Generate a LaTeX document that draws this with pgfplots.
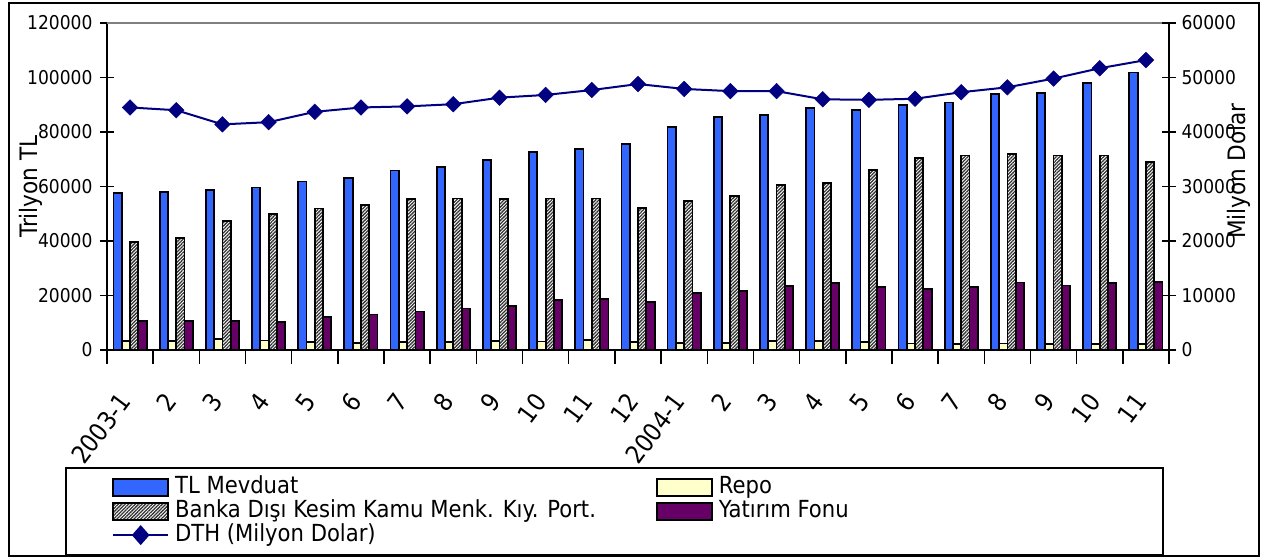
\documentclass[border=0pt]{standalone}
\usepackage{pgfplots}
\pgfplotsset{compat=1.18}
\usepackage{pgfplotstable}
\usepackage{fontspec}
\setmainfont{DejaVu Sans Condensed}
\usetikzlibrary{patterns.meta}
\definecolor{tlblue}{RGB}{51,102,255}
\definecolor{repoy}{RGB}{255,255,204}
\definecolor{fonpur}{RGB}{102,0,102}
\definecolor{dthnavy}{RGB}{0,0,128}

\pgfplotstableread{
x tl repo bd yf dth
0 57700 3300 39500 10600 44500
1 58100 3300 41100 10600 44000
2 58700 4000 47400 10700 41400
3 59600 3500 49800 10400 41800
4 61800 3000 51900 12200 43700
5 63000 2700 53100 13000 44500
6 65900 3000 55300 14100 44700
7 67300 3000 55600 15200 45100
8 69700 3200 55400 16100 46300
9 72800 3100 55600 18300 46800
10 73900 3600 55600 18700 47700
11 75500 3000 52200 17500 48800
12 81900 2700 54700 21000 47900
13 85600 2600 56500 21700 47500
14 86200 3300 60600 23500 47500
15 88900 3200 61400 24700 46000
16 88100 2900 66100 23000 45900
17 89800 2400 70600 22500 46100
18 90800 2300 71400 23000 47300
19 93900 2400 71800 24800 48200
20 94400 2300 71400 23700 49800
21 98000 2300 71400 24500 51700
22 101800 2300 69100 25100 53200
}\data

\newcommand\barleg[1]{\addlegendimage{legend image code/.code={\draw[black,line width=1.8bp,#1] (0bp,-8.5bp) rectangle (55bp,8.5bp);}}}

\pgfplotsset{
  common/.style={
    at={(107bp,208bp)}, anchor=south west, scale only axis,
    width=1062bp, height=327bp,
    xmin=-0.5, xmax=22.5,
    tick align=center, major tick length=14bp,
    tick style={black, line width=1.5bp},
    axis line style={black, line width=1.8bp, -},
    scaled y ticks=false,
    ylabel style={font=\fontsize{24bp}{26bp}\selectfont},
  }
}

\begin{document}
\begin{tikzpicture}
\path[use as bounding box] (0,0) rectangle (1272bp,558bp);
\draw[line width=1.5bp] (9bp,2bp) rectangle (1259bp,555bp);

\begin{axis}[common,
  ymin=0, ymax=120000,
  axis x line*=bottom, axis y line*=left,
  ybar=0pt, bar width=8.3bp,
  ytick={0,20000,40000,60000,80000,100000,120000},
  yticklabels={0,20000,40000,60000,80000,100000,120000},
  yticklabel style={font=\fontsize{19bp}{20bp}\selectfont, xshift=-4bp},
  xtick={-0.5,0.5,...,22.5}, x tick label as interval,
  xticklabels={2003-1,2,3,4,5,6,7,8,9,10,11,12,2004-1,2,3,4,5,6,7,8,9,10,11},
  xticklabel style={font=\fontsize{25bp}{26bp}\selectfont, xshift=-3bp, yshift=-30bp, rotate=53, anchor=east},
  ylabel={Trilyon TL},
  ylabel style={at={(axis description cs:-0.0716,0.5)}, anchor=center},
]
\draw[gray, line width=1.5bp] (rel axis cs:0,1) -- (rel axis cs:1,1);
\addplot[draw=black, line width=1.8bp, fill=tlblue] table[x=x,y=tl]{\data};
\addplot[draw=black, line width=1.8bp, fill=repoy] table[x=x,y=repo]{\data};
\addplot[draw=black, line width=1.8bp, pattern={Lines[angle=45,distance=2.4bp,line width=1.3bp]}, pattern color=black!80] table[x=x,y=bd]{\data};
\addplot[draw=black, line width=1.8bp, fill=fonpur] table[x=x,y=yf]{\data};
\end{axis}

\begin{axis}[common,
  ymin=0, ymax=60000,
  axis x line=none, axis y line*=right,
  ytick={0,10000,20000,30000,40000,50000,60000},
  yticklabels={0,10000,20000,30000,40000,50000,60000},
  yticklabel style={font=\fontsize{19bp}{20bp}\selectfont, xshift=2bp},
  ylabel={Milyon Dolar},
  ylabel style={at={(axis description cs:1.066,0.547)}, anchor=center},
  clip=false,
  legend columns=2,
  legend cell align=left,
  legend style={at={(axis description cs:0.0047,-0.382)}, anchor=north west,
    draw=none, fill=none, inner sep=0pt, row sep=0pt,
    font=\fontsize{23.5bp}{28bp}\selectfont,
    nodes={inner xsep=0pt, inner ysep=0pt, text height=18bp, text depth=6bp},
    /tikz/every odd column/.append style={column sep=6bp}},
]
\fill[white] (axis description cs:-0.0386,-0.3609) rectangle (axis description cs:0.99435,-0.6269);
\draw[line width=1.5bp] (axis description cs:-0.0386,-0.3609) rectangle (axis description cs:0.99435,-0.6269);
\barleg{fill=tlblue}
\addlegendentry{\makebox[481bp][l]{TL Mevduat}}
\barleg{fill=repoy}
\addlegendentry{Repo}
\barleg{pattern={Lines[angle=45,distance=2.4bp,line width=1.3bp]}, pattern color=black!80}
\addlegendentry{\makebox[481bp][l]{Banka Dışı Kesim Kamu Menk. Kıy. Port.}}
\barleg{fill=fonpur}
\addlegendentry{Yatırım Fonu}
\addplot[dthnavy, line width=2bp, mark=square*, mark size=5.5bp,
  mark options={rotate=45, fill=dthnavy, line width=0.5bp},
  legend image code/.code={
    \draw[dthnavy, line width=2bp] (0bp,0bp) -- (55bp,0bp);
    \fill[dthnavy] (27.5bp,0bp) +(-7.5bp,0bp) -- +(0bp,8.5bp) -- +(7.5bp,0bp) -- +(0bp,-8.5bp) -- cycle;}
  ] table[x=x,y=dth]{\data};
\addlegendentry{DTH (Milyon Dolar)}
\end{axis}
\end{tikzpicture}
\end{document}
